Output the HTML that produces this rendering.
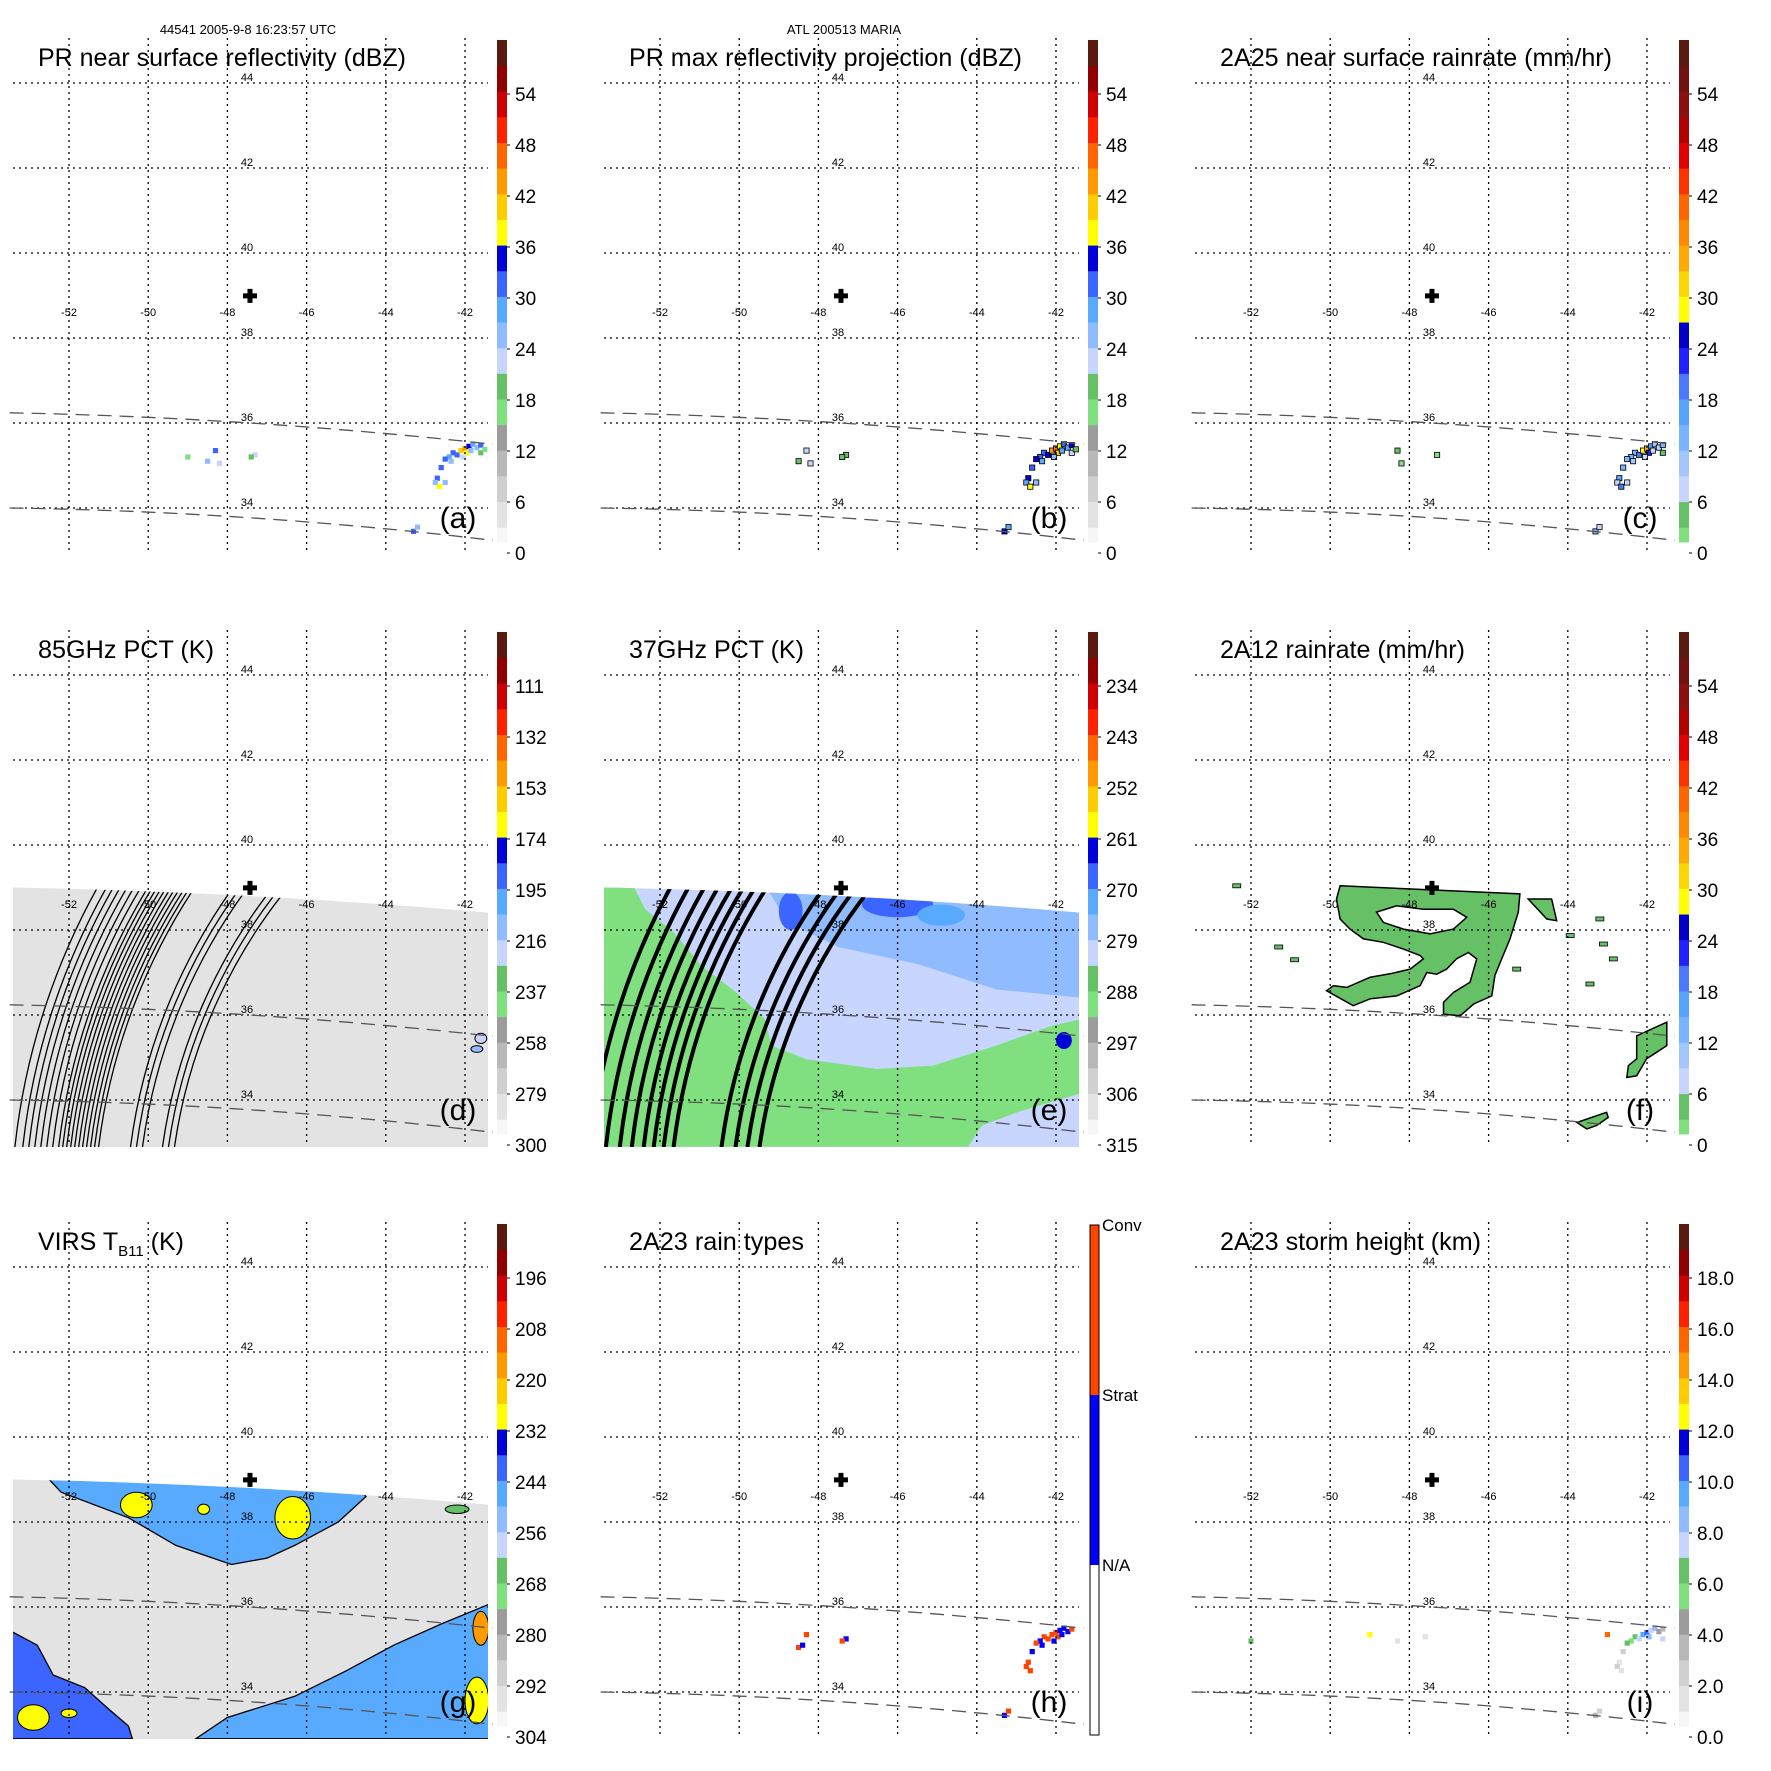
<!DOCTYPE html>
<html><head><meta charset="utf-8"><title>TRMM MARIA overpass</title>
<style>html,body{margin:0;padding:0;background:#fff;width:1771px;height:1771px;overflow:hidden}svg{display:block;font-family:"Liberation Sans",Arial,sans-serif}</style>
</head><body>
<svg id="fig" xmlns="http://www.w3.org/2000/svg" width="1771" height="1771" viewBox="0 0 1771 1771" overflow="hidden">
<rect x="0" y="0" width="1771" height="1771" fill="#fff"/>
<text x="248" y="34" font-size="13" text-anchor="middle">44541 2005-9-8 16:23:57 UTC</text>
<text x="844" y="34" font-size="13" text-anchor="middle">ATL 200513 MARIA</text>
</svg>
<script>
// ---------- shared axis data ----------
const lonTicks=[-52,-50,-48,-46,-44,-42];
const latTicks=[44,42,40,38,36,34];
const stormCenter=[-47.43,38.99];
const tmiSwathTop=[[-53.5,39.0],[-47.43,38.8],[-41.3,38.4]];
const prSwathUpper=[[-53.5,36.24],[-47.43,36.0],[-41.3,35.5]];
const prSwathLower=[[-53.5,34.0],[-47.43,33.77],[-41.3,33.24]];
// colorbar tick labels
const ticksA=['54','48','42','36','30','24','18','12','6','0'];
const ticksD=['111','132','153','174','195','216','237','258','279','300'];
const ticksE=['234','243','252','261','270','279','288','297','306','315'];
const ticksG=['196','208','220','232','244','256','268','280','292','304'];
const ticksI=['18.0','16.0','14.0','12.0','10.0','8.0','6.0','4.0','2.0','0.0'];
const ticksH=['Conv','Strat','N/A'];
// palettes (bottom -> top)
const paletteBase=['#f6f6f6','#e3e3e3','#d0d0d0','#b8b8b8','#9c9c9c','#80e080','#66c066','#c8d6ff','#90bcff','#58aaff','#3c64ff','#0000d8','#ffff00','#ffcc00','#ff9900','#ff6600','#ff2200','#d00000','#900000','#5a1a10'];
const paletteRain=['#80e080','#66c066','#c8d6ff','#a4c6ff','#78b4ff','#58a4ff','#4a78ff','#2222ff','#0000c8','#ffff00','#ffd700','#ffaa00','#ff8800','#ff6600','#ff3300','#e00000','#b00000','#8b1010','#701010','#5a1a10'];
const paletteType=['#ffffff','#0000ff','#ff4400'];
// ---------- PR cells [lon, lat, value] ----------
const cellsA=[[-42.3,35.3,30],[-42.2,35.25,32],[-42.1,35.35,40],[-42.0,35.4,44],[-41.9,35.45,33],[-41.8,35.5,28],[-41.7,35.42,25],[-41.6,35.48,30],[-42.4,35.2,29],[-42.5,35.15,31],[-42.35,35.1,26],[-41.95,35.3,38],[-41.85,35.35,26],[-42.05,35.2,22],[-41.6,35.3,18],[-41.5,35.38,17],[-42.6,34.95,30],[-42.7,34.7,32],[-42.75,34.6,25],[-42.65,34.5,36],[-42.5,34.6,24],[-43.3,33.45,31],[-43.2,33.55,26],[-48.3,35.35,30],[-48.5,35.1,25],[-48.2,35.05,22],[-47.3,35.25,22],[-47.4,35.2,18],[-49.0,35.2,17]];
const cellsB=[[-42.3,35.3,32],[-42.2,35.25,35],[-42.1,35.35,43],[-42.0,35.4,46],[-41.9,35.45,36],[-41.8,35.5,30],[-41.7,35.42,28],[-41.6,35.48,33],[-42.4,35.2,31],[-42.5,35.15,33],[-42.35,35.1,28],[-41.95,35.3,41],[-41.85,35.35,29],[-42.05,35.2,25],[-41.6,35.3,22],[-41.5,35.38,20],[-42.6,34.95,32],[-42.7,34.7,34],[-42.75,34.6,27],[-42.65,34.5,38],[-42.5,34.6,26],[-43.3,33.45,33],[-43.2,33.55,29],[-48.3,35.35,22],[-48.5,35.1,20],[-48.2,35.05,21],[-47.3,35.25,20],[-47.4,35.2,19]];
const cellsC=[[-42.3,35.3,14],[-42.2,35.25,18],[-42.1,35.35,28],[-42.0,35.4,34],[-41.9,35.45,16],[-41.8,35.5,10],[-41.7,35.42,8],[-41.6,35.48,12],[-42.4,35.2,12],[-42.5,35.15,14],[-42.35,35.1,9],[-41.95,35.3,22],[-41.85,35.35,8],[-42.05,35.2,6],[-41.6,35.3,3],[-42.6,34.95,12],[-42.7,34.7,15],[-42.75,34.6,8],[-42.65,34.5,20],[-42.5,34.6,7],[-43.3,33.45,13],[-43.2,33.55,8],[-48.3,35.35,3],[-48.2,35.05,2],[-47.3,35.25,2]];
const cellsH=[[-42.3,35.3,2],[-42.2,35.25,2],[-42.1,35.35,2],[-42.0,35.4,2],[-41.9,35.45,1],[-41.8,35.5,1],[-41.7,35.42,1],[-41.6,35.48,2],[-42.4,35.2,1],[-42.5,35.15,2],[-42.35,35.1,1],[-41.95,35.3,2],[-41.85,35.35,1],[-42.05,35.2,1],[-42.6,34.95,1],[-42.7,34.7,2],[-42.75,34.6,2],[-42.65,34.5,2],[-43.3,33.45,1],[-43.2,33.55,2],[-48.3,35.35,2],[-48.5,35.05,2],[-48.4,35.1,1],[-47.3,35.25,1],[-47.4,35.2,2]];
const cellsI=[[-42.3,35.3,6],[-42.2,35.25,7],[-42.1,35.35,9],[-42.0,35.4,10],[-41.9,35.45,7.5],[-41.8,35.5,8],[-41.7,35.42,4.5],[-41.6,35.48,3.5],[-42.4,35.2,5.5],[-42.5,35.15,6],[-41.95,35.3,8.5],[-41.6,35.25,7.5],[-42.6,34.95,2],[-42.7,34.7,1.5],[-42.75,34.6,2.5],[-42.65,34.5,1.5],[-43.3,33.45,3],[-43.2,33.55,2],[-48.3,35.2,1],[-47.6,35.3,1],[-49.0,35.35,12.5],[-43.0,35.35,15],[-52.0,35.2,6]];
// ---------- PCT / rain regions (lon,lat rings) ----------
const fMainOuter=[[-49.75,39.04],[-45.21,38.85],[-45.25,38.42],[-45.46,37.79],[-45.67,37.32],[-45.84,36.93],[-45.92,36.45],[-46.38,36.26],[-46.72,35.98],[-47.14,36.02],[-47.14,36.30],[-46.89,36.53],[-46.47,36.77],[-46.30,37.32],[-46.51,37.47],[-46.81,37.32],[-47.06,37.08],[-47.31,36.96],[-47.56,37.00],[-47.73,36.69],[-48.32,36.45],[-48.99,36.38],[-49.42,36.22],[-50.09,36.57],[-49.92,36.69],[-49.58,36.65],[-48.99,36.89],[-48.49,36.97],[-47.98,37.08],[-47.65,37.32],[-47.73,37.40],[-48.15,37.55],[-48.66,37.71],[-49.16,37.79],[-49.50,38.02],[-49.75,38.26],[-49.84,38.73]];
const fMainHole=[[-48.83,38.42],[-48.32,38.57],[-47.65,38.49],[-46.89,38.49],[-46.55,38.30],[-46.89,38.02],[-47.48,37.91],[-48.15,38.02],[-48.66,38.18]];
const fStrip=[[-45.0,38.73],[-44.41,38.73],[-44.28,38.22],[-44.53,38.26]];
const fBlobSE=[[-42.26,35.51],[-41.50,35.83],[-41.50,35.28],[-42.01,34.97],[-42.26,34.57],[-42.51,34.53],[-42.47,34.81],[-42.26,34.97]];
const fBlobS=[[-43.77,33.47],[-43.02,33.71],[-42.98,33.59],[-43.27,33.40],[-43.52,33.32]];
const fSpecks=[[-43.94,37.87,3],[-43.10,37.67,3],[-42.85,37.32,3],[-45.29,37.08,3],[-43.44,36.73,3],[-52.36,39.04,3],[-43.19,38.26,3],[-51.3,37.6,3],[-50.9,37.3,3]];
const eGreen=[[-53.6,39.2],[-52.72,39.12],[-52.37,38.49],[-51.66,37.95],[-50.95,37.16],[-50.07,36.53],[-49.36,35.91],[-49.18,35.28],[-48.30,34.96],[-46.52,34.73],[-45.11,34.81],[-43.51,35.28],[-42.10,35.75],[-41.3,35.91],[-41.3,34.18],[-42.98,33.71],[-43.87,33.40],[-44.22,32.9],[-53.6,32.9]];
const eMidBlue=[[-49.5,39.3],[-41.3,39.3],[-41.3,36.4],[-43.5,36.6],[-45.5,37.2],[-47.5,37.6],[-48.8,38.2]];
const eBlobs=[[-48.7,38.45,0.3,0.45,268],[-46.0,38.6,0.9,0.3,268],[-41.8,35.4,0.2,0.2,262],[-44.9,38.35,0.6,0.25,272]];
const dBlobs=[[-47.9,38.95,0.2,0.1,215],[-41.6,35.45,0.15,0.12,220],[-41.7,35.2,0.15,0.08,210]];
const gTop=[[-52.7,39.2],[-45.0,39.2],[-44.5,38.6],[-45.2,38.0],[-46.3,37.45],[-47.0,37.15],[-47.9,37.0],[-49.3,37.45],[-50.5,38.1],[-52.2,38.7]];
const gBottomLeft=[[-53.6,35.5],[-52.8,35.1],[-52.4,34.4],[-51.6,34.1],[-51.0,33.6],[-50.5,33.2],[-50.4,32.9],[-53.6,32.9]];
const gBottomRight=[[-48.8,32.9],[-48.0,33.4],[-46.3,33.9],[-45.0,34.5],[-43.8,35.1],[-42.6,35.6],[-41.3,36.1],[-41.3,32.9]];
const gBlobs=[[-50.3,38.4,0.4,0.3,227],[-46.35,38.1,0.45,0.5,227],[-48.6,38.3,0.15,0.12,227],[-41.6,35.5,0.2,0.4,215],[-41.7,33.8,0.3,0.55,227],[-52.9,33.4,0.4,0.3,227],[-52.0,33.5,0.2,0.1,227],[-42.2,38.3,0.3,0.1,265]];
const dArcs=[13.4,13.55,13.7,14.2,14.35,14.5,15.3,15.4,15.5,15.6,15.7,15.8,15.9,16.0,16.1,16.2,16.3,16.45,16.6,16.75,16.9,17.05,17.2,17.4];
const eArcs=[13.55,13.85,14.15,14.5,15.7,15.95,16.2,16.45,16.75,17.05,17.4,17.8];
const arcCenter=[-36.07,31.13];

const NS='http://www.w3.org/2000/svg';
const svg=document.getElementById('fig');
function el(tag,parent){const e=document.createElementNS(NS,tag);parent.appendChild(e);return e;}
const px=lon=>69+(lon+52)*39.6;
const py=lat=>83+(44-lat)*42.5;
function colorFor(p,v){let t=(v-p.lo)/(p.hi-p.lo);if(p.rev)t=1-t;let i=Math.floor(t*p.pal.length);i=Math.max(0,Math.min(p.pal.length-1,i));return p.pal[i];}
function ringPath(r){return 'M'+r.map(q=>px(q[0]).toFixed(1)+','+py(q[1]).toFixed(1)).join('L')+'Z';}
function qPath(pts){const p0=[px(pts[0][0]),py(pts[0][1])],m=[px(pts[1][0]),py(pts[1][1])],p2=[px(pts[2][0]),py(pts[2][1])];const c=[2*m[0]-(p0[0]+p2[0])/2,2*m[1]-(p0[1]+p2[1])/2];return `M${p0[0]},${p0[1]}Q${c[0]},${c[1]} ${p2[0]},${p2[1]}`;}
function swathPath(){const p0=[px(tmiSwathTop[0][0]),py(tmiSwathTop[0][1])],m=[px(tmiSwathTop[1][0]),py(tmiSwathTop[1][1])],p2=[px(tmiSwathTop[2][0]),py(tmiSwathTop[2][1])];const c=[2*m[0]-(p0[0]+p2[0])/2,2*m[1]-(p0[1]+p2[1])/2];return `M${p0[0]},${p0[1]}Q${c[0]},${c[1]} ${p2[0]},${p2[1]}L${p2[0]},555L${p0[0]},555Z`;}
function arcPath(rDeg){const cx=px(arcCenter[0]),cy=py(arcCenter[1]),r=rDeg*39.6;const y1=280,y2=555;const x1=cx-Math.sqrt(r*r-(y1-cy)*(y1-cy)),x2=cx-Math.sqrt(r*r-(y2-cy)*(y2-cy));return `M${x1.toFixed(1)},${y1}A${r.toFixed(1)},${r.toFixed(1)} 0 0 0 ${x2.toFixed(1)},${y2}`;}

const panels=[
 {id:'a',col:0,row:0,title:'PR near surface reflectivity (dBZ)',tw:368,pal:paletteBase,lo:0,hi:60,rev:false,ticks:ticksA,cells:cellsA,outline:false},
 {id:'b',col:1,row:0,title:'PR max reflectivity projection (dBZ)',tw:393,pal:paletteBase,lo:0,hi:60,rev:false,ticks:ticksA,cells:cellsB,outline:true},
 {id:'c',col:2,row:0,title:'2A25 near surface rainrate (mm/hr)',tw:392,pal:paletteRain,lo:0,hi:60,rev:false,ticks:ticksA,cells:cellsC,outline:true},
 {id:'d',col:0,row:1,title:'85GHz PCT (K)',tw:176,pal:paletteBase,lo:90,hi:300,rev:true,ticks:ticksD,swath:284,arcs:dArcs,arcW:1.3,blobs:dBlobs},
 {id:'e',col:1,row:1,title:'37GHz PCT (K)',tw:175,pal:paletteBase,lo:225,hi:315,rev:true,ticks:ticksE,swath:281,regions:[[eGreen,289,false],[eMidBlue,277,false]],blobs:eBlobs,arcs:eArcs,arcW:4},
 {id:'f',col:2,row:1,title:'2A12 rainrate (mm/hr)',tw:245,pal:paletteRain,lo:0,hi:60,rev:false,ticks:ticksA,fpoly:true},
 {id:'g',col:0,row:2,title:'VIRS T',tw:0,pal:paletteBase,lo:184,hi:304,rev:true,ticks:ticksG,swath:293,regions:[[gTop,246,true],[gBottomLeft,240,true],[gBottomRight,248,true]],blobs:gBlobs},
 {id:'h',col:1,row:2,title:'2A23 rain types',tw:175,pal:paletteType,lo:0,hi:3,rev:false,ticks:ticksH,cells:cellsH,typebar:true},
 {id:'i',col:2,row:2,title:'2A23 storm height (km)',tw:261,pal:paletteBase,lo:0,hi:20,rev:false,ticks:ticksI,cells:cellsI}
];

panels.forEach(p=>{
 const ox=p.col*591, oy=p.row*592;
 const g=el('g',svg);
 
 
 g.setAttribute('transform',`translate(${ox},${oy})`);
 const cpId='clip-'+p.id;
 const defs=el('defs',g);
 const cp=el('clipPath',defs);cp.setAttribute('id',cpId);
 const cr=el('rect',cp);cr.setAttribute('x',13);cr.setAttribute('y',38);cr.setAttribute('width',475);cr.setAttribute('height',517);
 const sp=el('clipPath',defs);sp.setAttribute('id',cpId+'s');
 const spp=el('path',sp);spp.setAttribute('d',swathPath());
 const plot=el('g',g);
 
 
 plot.setAttribute('clip-path',`url(#${cpId})`);
 if(p.swath!==undefined){
  const sw=el('g',plot);
  
  
  sw.setAttribute('clip-path',`url(#${cpId}s)`);
  const bg=el('rect',sw);
  
  
  bg.setAttribute('x',13);bg.setAttribute('y',250);bg.setAttribute('width',475);bg.setAttribute('height',305);bg.setAttribute('fill',colorFor(p,p.swath));
  (p.regions||[]).forEach(r=>{
   const path=el('path',sw);
   
   
   path.setAttribute('d',ringPath(r[0]));path.setAttribute('fill',colorFor(p,r[1]));
   if(r[2]){path.setAttribute('stroke','#000');path.setAttribute('stroke-width','1.3');}
  });
  (p.blobs||[]).forEach(b=>{
   const e=el('ellipse',sw);
   
   
   e.setAttribute('cx',px(b[0]));e.setAttribute('cy',py(b[1]));e.setAttribute('rx',b[2]*39.6);e.setAttribute('ry',b[3]*42.5);e.setAttribute('fill',colorFor(p,b[4]));
   if(p.id==='g'||p.id==='d'){e.setAttribute('stroke','#000');e.setAttribute('stroke-width','1');}
  });
  (p.arcs||[]).forEach(rad=>{
   const c=el('path',sw);
   
   
   c.setAttribute('d',arcPath(rad));
   c.setAttribute('fill','none');c.setAttribute('stroke','#000');c.setAttribute('stroke-width',p.arcW);
  });
 }
 if(p.fpoly){
  const fg=el('g',plot);
  
  
  const main=el('path',fg);
  
  
  main.setAttribute('d',ringPath(fMainOuter)+ringPath(fMainHole));
  main.setAttribute('fill-rule','evenodd');main.setAttribute('fill',colorFor(p,3));main.setAttribute('stroke','#000');main.setAttribute('stroke-width','1.5');
  [fStrip,fBlobSE,fBlobS].forEach(r=>{
   const q=el('path',fg);
   
   
   q.setAttribute('d',ringPath(r));q.setAttribute('fill',colorFor(p,3));q.setAttribute('stroke','#000');q.setAttribute('stroke-width','1.5');
  });
  fSpecks.forEach(s=>{
   const r=el('rect',fg);
   
   
   r.setAttribute('x',px(s[0])-4);r.setAttribute('y',py(s[1])-2);r.setAttribute('width',8);r.setAttribute('height',4);r.setAttribute('fill',colorFor(p,s[2]));r.setAttribute('stroke','#000');r.setAttribute('stroke-width','0.8');
  });
 }
 (p.cells||[]).forEach(c=>{
  const r=el('rect',plot);
  
  
  r.setAttribute('x',(px(c[0])-2.6).toFixed(1));r.setAttribute('y',(py(c[1])-2.6).toFixed(1));r.setAttribute('width',5.2);r.setAttribute('height',5.2);
  r.setAttribute('fill',p.typebar?p.pal[c[2]]:colorFor(p,c[2]));
  if(p.outline){r.setAttribute('stroke','#000');r.setAttribute('stroke-width','0.8');}
 });
 // grid
 lonTicks.forEach(lon=>{
  const l=el('line',g);
  
  
  l.setAttribute('x1',px(lon));l.setAttribute('x2',px(lon));l.setAttribute('y1',38);l.setAttribute('y2',551);
  l.setAttribute('stroke','#000');l.setAttribute('stroke-width','1.3');l.setAttribute('stroke-dasharray','2,4');
  const t=el('text',g);
  
  
  t.setAttribute('x',px(lon));t.setAttribute('y',py(38.52));t.setAttribute('font-size','11');t.setAttribute('text-anchor','middle');
  t.textContent=String(lon);
 });
 latTicks.forEach(lat=>{
  const l=el('line',g);
  
  
  l.setAttribute('x1',13);l.setAttribute('x2',488);l.setAttribute('y1',py(lat));l.setAttribute('y2',py(lat));
  l.setAttribute('stroke','#000');l.setAttribute('stroke-width','1.3');l.setAttribute('stroke-dasharray','2,4');
  const t=el('text',g);
  
  
  t.setAttribute('x',247);t.setAttribute('y',py(lat)-2);t.setAttribute('font-size','11');t.setAttribute('text-anchor','middle');
  t.textContent=String(lat);
 });
 [prSwathUpper,prSwathLower].forEach(s=>{
  const d=el('path',g);
  
  
  d.setAttribute('d',qPath(s));d.setAttribute('fill','none');d.setAttribute('stroke','#555');d.setAttribute('stroke-width','1.3');d.setAttribute('stroke-dasharray','14,8');
 });
 const cx=px(stormCenter[0]),cy=py(stormCenter[1]);
 const cross=el('path',g);
 
 
 cross.setAttribute('d',`M${cx-7},${cy-2.5}h14v5h-14zM${cx-2.5},${cy-7}h5v14h-5z`);cross.setAttribute('fill','#000');
 // title
 const tt=el('text',g);
 
 
 tt.setAttribute('x',38);tt.setAttribute('y',66);tt.setAttribute('font-size','25');
 if(p.id==='g'){
  tt.textContent='VIRS T';
  const sub=el('tspan',tt);sub.setAttribute('font-size','15');sub.setAttribute('dy','6');sub.textContent='B11';
  const rest=el('tspan',tt);rest.setAttribute('dy','-6');rest.textContent=' (K)';
 } else {
  tt.textContent=p.title;tt.setAttribute('textLength',p.tw);tt.setAttribute('lengthAdjust','spacingAndGlyphs');
 }
 const pl=el('text',g);
 
 
 pl.setAttribute('x',458);pl.setAttribute('y',528);pl.setAttribute('font-size','30');pl.setAttribute('text-anchor','middle');
 pl.textContent='('+p.id+')';
 // colorbar
 const cb=el('g',g);
 
 
 if(p.typebar){
  p.pal.forEach((col,i)=>{
   const r=el('rect',cb);
   
   
   r.setAttribute('x',499);r.setAttribute('y',41+(2-i)*170);r.setAttribute('width',9);r.setAttribute('height',170);r.setAttribute('fill',col);
  });
  const bd=el('rect',cb);
  
  
  bd.setAttribute('x',499);bd.setAttribute('y',41);bd.setAttribute('width',9);bd.setAttribute('height',510);bd.setAttribute('fill','none');bd.setAttribute('stroke','#000');bd.setAttribute('stroke-width','1');
  p.ticks.forEach((lab,i)=>{
   const t=el('text',cb);
   
   
   t.setAttribute('x',511);t.setAttribute('y',41+i*170+6);t.setAttribute('font-size','17');
   t.textContent=lab;
  });
 } else {
  const n=p.pal.length,bh=(553-40)/n;
  p.pal.forEach((col,i)=>{
   const y0=553-(i+1)*bh;const y1=Math.min(542,553-i*bh);
   if(y1<=y0)return;
   const r=el('rect',cb);
   
   
   r.setAttribute('x',497);r.setAttribute('y',y0.toFixed(2));r.setAttribute('width',10);r.setAttribute('height',(y1-y0+0.4).toFixed(2));r.setAttribute('fill',col);
  });
  p.ticks.forEach((lab,i)=>{
   const yc=94+i*51;
   const tk=el('line',cb);
   
   
   tk.setAttribute('x1',507);tk.setAttribute('x2',510);tk.setAttribute('y1',yc);tk.setAttribute('y2',yc);tk.setAttribute('stroke','#000');
   const t=el('text',cb);
   
   
   t.setAttribute('x',515);t.setAttribute('y',yc+7);t.setAttribute('font-size','19');
   t.textContent=lab;
  });
 }
});
</script>
</body></html>
